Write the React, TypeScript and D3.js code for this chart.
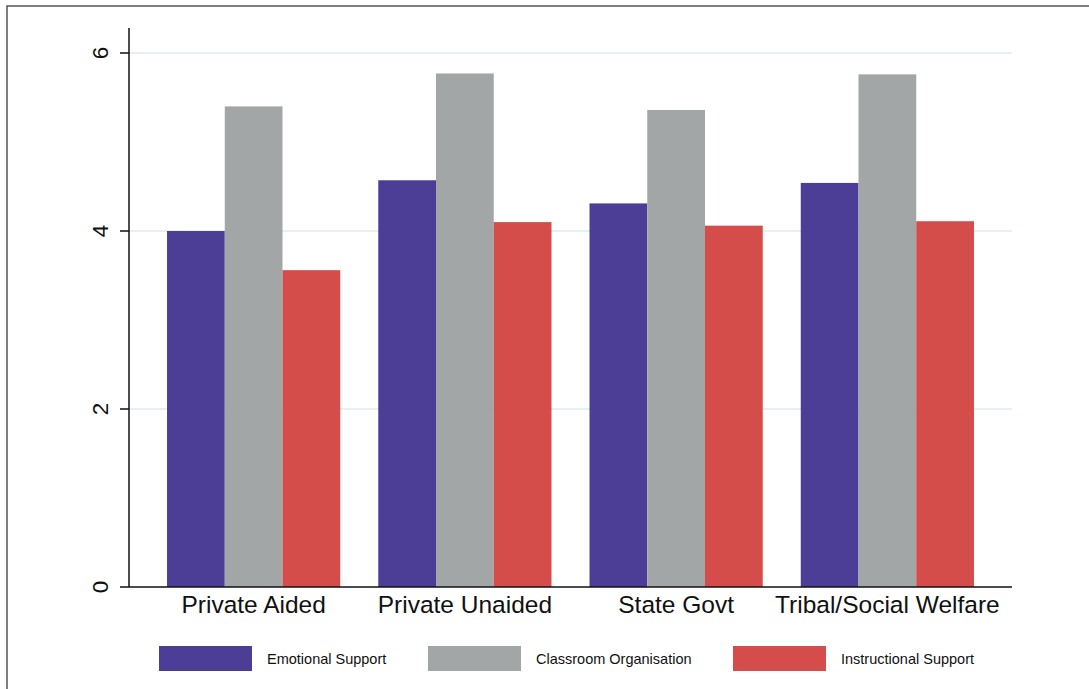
import React from "react";
import * as d3 from "d3";

const categories = ["Private Aided", "Private Unaided", "State Govt", "Tribal/Social Welfare"];
const seriesNames = ["Emotional Support", "Classroom Organisation", "Instructional Support"];
const emotional = [4.0, 4.57, 4.31, 4.54];
const classroom = [5.40, 5.77, 5.36, 5.76];
const instructional = [3.56, 4.10, 4.06, 4.11];
const yTicks = [0, 2, 4, 6];
const colors = ["#4C3D96", "#A3A6A7", "#D44D4A"];

const W = 1089;
const H = 689;
const left = 129;
const right = 1012;
const top = 28;
const bottom = 587;

export default function App() {
  const series = [emotional, classroom, instructional];
  const y = d3.scaleLinear().domain([0, 6]).range([bottom, 53]);
  const x0 = d3.scaleBand<string>().domain(categories).range([left, right]).paddingInner(0.18).paddingOuter(0.18);
  const x1 = d3.scaleBand<string>().domain(seriesNames).range([0, x0.bandwidth()]).padding(0);
  const legendX = [159, 428, 733];
  const font = "Liberation Sans, Arial, Helvetica, sans-serif";

  return (
    <svg width={W} height={H} style={{ position: "absolute", left: 0, top: 0, background: "#fff" }} fontFamily={font}>
      <rect x={0} y={0} width={W} height={H} fill="#fff" />
      <rect x={7} y={6} width={W + 20} height={H + 20} fill="none" stroke="#555" strokeWidth={1.5} />
      {yTicks.filter((t) => t > 0).map((t) => (
        <line key={"g" + t} x1={left} x2={right} y1={y(t)} y2={y(t)} stroke="#DCEBEB" strokeWidth={1.5} />
      ))}
      {categories.map((c, i) => (
        <g key={c}>
          {seriesNames.map((s, j) => (
            <rect
              key={s}
              x={(x0(c) as number) + (x1(s) as number)}
              y={y(series[j][i])}
              width={x1.bandwidth()}
              height={y(0) - y(series[j][i])}
              fill={colors[j]}
            />
          ))}
          <text x={(x0(c) as number) + x0.bandwidth() / 2} y={613} textAnchor="middle" fontSize={24.5} fill="#111">
            {c}
          </text>
        </g>
      ))}
      <line x1={left} x2={left} y1={top} y2={bottom} stroke="#111" strokeWidth={1.5} />
      <line x1={left} x2={right} y1={bottom} y2={bottom} stroke="#111" strokeWidth={1.5} />
      {yTicks.map((t) => (
        <g key={"t" + t}>
          <line x1={120} x2={left} y1={y(t)} y2={y(t)} stroke="#111" strokeWidth={1.5} />
          <text
            transform={`translate(107.5,${y(t)}) rotate(-90)`}
            textAnchor="middle"
            fontSize={22.5}
            fill="#111"
          >
            {t}
          </text>
        </g>
      ))}
      {seriesNames.map((s, j) => (
        <g key={"l" + s}>
          <rect x={legendX[j]} y={646} width={93} height={25} fill={colors[j]} />
          <text x={legendX[j] + 108} y={664} fontSize={14.5} fill="#111">
            {s}
          </text>
        </g>
      ))}
    </svg>
  );
}
